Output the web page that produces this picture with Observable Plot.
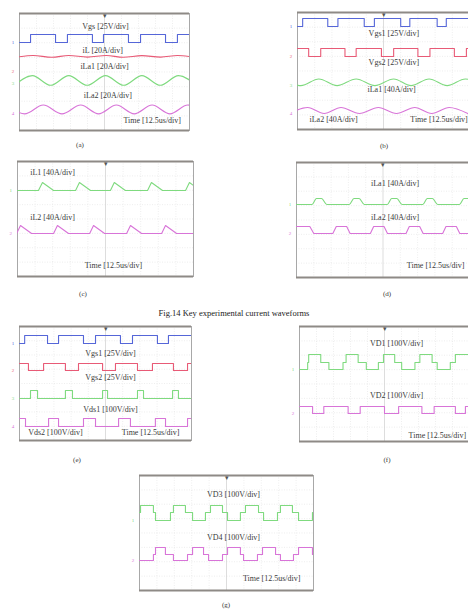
<!DOCTYPE html>
<html>
<head>
<meta charset="utf-8">
<script src="https://cdn.jsdelivr.net/npm/d3@7"></script>
<script src="https://cdn.jsdelivr.net/npm/@observablehq/plot@0.6"></script>
<style>
  html, body { margin: 0; padding: 0; background: #fff; }
  #wrap { position: relative; width: 468px; height: 610px; overflow: hidden; background: #fff; font-family: "Liberation Serif", serif; }
  .pnl { position: absolute; }
  .cap { position: absolute; font-size: 7px; color: #333; transform: translateX(-50%); white-space: nowrap; }
</style>
</head>
<body>
<div id="wrap"></div>
<script>
// ---------- grid (oscilloscope divisions) ----------
const gridX = [1, 2, 3, 4, 6, 7, 8, 9];
const gridY = [1, 2, 3, 4, 5, 6, 7];

// ---------- panel (a) ----------
const aVgsT = [0, 0.65, 2.12, 2.82, 4.29, 4.94, 6.41, 7.12, 8.59, 9.29, 10];
const aVgsV = [6.02, 6.56, 6.02, 6.56, 6.02, 6.56, 6.02, 6.56, 6.02, 6.56, 6.56];
const aIlX = [0, 0.8, 1.9, 2.9, 4.0, 5.1, 6.1, 7.2, 8.3, 9.3, 10];
const aIlY = [5.04, 5.13, 5.01, 5.13, 5.02, 5.13, 5.01, 5.12, 5.02, 5.13, 5.06];
const aIa1X = [-0.31, 0.76, 1.83, 2.9, 3.98, 5.06, 6.13, 7.2, 8.28, 9.35, 10.42];
const aIa1Y = [3.09, 3.75, 3.09, 3.75, 3.09, 3.75, 3.09, 3.75, 3.09, 3.75, 3.09];
const aIa2X = [-0.75, 0.3, 1.4, 2.5, 3.6, 4.65, 5.7, 6.75, 7.8, 8.85, 9.9, 10.95];
const aIa2Y = [1.74, 1.14, 1.74, 1.14, 1.74, 1.14, 1.74, 1.14, 1.74, 1.14, 1.74, 1.14];
const aLabels = ["Vgs [25V/div]", "iL [20A/div]", "iLa1 [20A/div]", "iLa2 [20A/div]"];
const aLabelX = [5.06, 4.9, 5.0, 5.2];
const aLabelY = [7.1, 5.5, 4.4, 2.4];
const aMarkY = [6.02, 4.03, 3.2, 1.17];

// ---------- panel (b) ----------
const bVgs1T = [0, 0.3, 1.76, 2.35, 3.88, 4.47, 6.0, 6.53, 8.12, 8.65, 10];
const bVgs1V = [7.04, 7.59, 7.04, 7.59, 7.04, 7.59, 7.04, 7.59, 7.04, 7.59, 7.59];
const bVgs2T = [0, 0.65, 1.35, 2.76, 3.41, 4.88, 5.59, 7.0, 7.7, 9.12, 9.82, 10];
const bVgs2V = [5.54, 4.99, 5.54, 4.99, 5.54, 4.99, 5.54, 4.99, 5.54, 4.99, 5.54, 5.54];
const bIa1X = [-0.85, 0.2, 1.24, 2.3, 3.41, 4.5, 5.59, 6.6, 7.65, 8.7, 9.76, 10.8];
const bIa1Y = [3.45, 3.0, 3.45, 3.0, 3.45, 3.0, 3.45, 3.0, 3.45, 3.0, 3.45, 3.0];
const bIa2X = [-0.5, 0.59, 1.55, 2.53, 3.6, 4.7, 5.75, 6.82, 7.8, 8.82, 9.9];
const bIa2Y = [1.09, 1.5, 1.09, 1.5, 1.09, 1.5, 1.09, 1.5, 1.09, 1.5, 1.09];
const bLabels = ["Vgs1 [25V/div]", "Vgs2 [25V/div]", "iLa1 [40A/div]", "iLa2 [40A/div]"];
const bLabelX = [5.6, 5.6, 5.47, 2.1];
const bLabelY = [6.56, 4.58, 2.74, 0.68];
const bMarkY = [7.04, 4.99, 3.0, 1.09];

// ---------- panel (c) ----------
const cI1X = [0, 1.19, 1.42, 2.05, 3.3, 3.52, 4.15, 5.28, 5.5, 6.13, 7.39, 7.61, 8.24, 9.55, 9.77, 10.4];
const cI1Y = [5.98, 5.98, 6.54, 5.98, 5.98, 6.54, 5.98, 5.98, 6.54, 5.98, 5.98, 6.54, 5.98, 5.98, 6.54, 5.98];
const cI2X = [-0.05, 0.17, 0.8, 2.05, 2.27, 2.9, 4.1, 4.32, 4.95, 6.2, 6.42, 7.05, 8.19, 8.41, 9.04, 10];
const cI2Y = [2.99, 3.55, 2.99, 2.99, 3.55, 2.99, 2.99, 3.55, 2.99, 2.99, 3.55, 2.99, 2.99, 3.55, 2.99, 2.99];
const cLabels = ["iL1 [40A/div]", "iL2 [40A/div]"];
const cLabelX = [1.99, 1.99];
const cLabelY = [7.23, 4.1];
const cMarkY = [5.98, 2.99];

// ---------- panel (d) ----------
const dI1X = [0, 0.9, 1.15, 1.45, 1.75, 3.05, 3.32, 3.62, 3.92, 5.25, 5.5, 5.8, 6.1, 7.3, 7.56, 7.86, 8.16, 9.42, 9.68, 9.98, 10.3];
const dI1Y = [5.08, 5.08, 5.5, 5.5, 5.08, 5.08, 5.5, 5.5, 5.08, 5.08, 5.5, 5.5, 5.08, 5.08, 5.5, 5.5, 5.08, 5.08, 5.5, 5.5, 5.08];
const dI2X = [-0.1, 0.77, 1.0, 2.1, 2.3, 2.9, 3.1, 4.27, 4.46, 5.06, 5.26, 6.33, 6.52, 7.12, 7.32, 8.45, 8.64, 9.24, 9.44, 10];
const dI2Y = [3.55, 3.55, 3.06, 3.06, 3.55, 3.55, 3.06, 3.06, 3.55, 3.55, 3.06, 3.06, 3.55, 3.55, 3.06, 3.06, 3.55, 3.55, 3.06, 3.06];
const dLabels = ["iLa1 [40A/div]", "iLa2 [40A/div]"];
const dLabelX = [5.7, 5.7];
const dLabelY = [6.54, 4.17];
const dMarkY = [5.08, 3.06];

// ---------- panel (e) ----------
const eVgs1T = [0, 0.3, 1.63, 2.27, 3.72, 4.42, 5.87, 6.57, 8.02, 8.66, 10];
const eVgs1V = [6.81, 7.37, 6.81, 7.37, 6.81, 7.37, 6.81, 7.37, 6.81, 7.37, 7.37];
const eVgs2T = [0, 0.52, 1.4, 2.67, 3.43, 4.83, 5.58, 6.86, 7.73, 8.95, 9.77, 10];
const eVgs2V = [5.4, 4.91, 5.4, 4.91, 5.4, 4.91, 5.4, 4.91, 5.4, 4.91, 5.4, 5.4];
const eVds1T = [0, 0.64, 1.05, 2.67, 3.08, 4.83, 5.12, 6.86, 7.21, 8.9, 9.24, 10];
const eVds1V = [2.95, 3.51, 2.95, 3.51, 2.95, 3.51, 2.95, 3.51, 2.95, 3.51, 2.95, 2.95];
const eVds2T = [0, 0.35, 1.69, 2.27, 3.72, 4.42, 5.76, 6.45, 7.9, 8.49, 9.77, 10];
const eVds2V = [1.54, 0.98, 1.54, 0.98, 1.54, 0.98, 1.54, 0.98, 1.54, 0.98, 1.54, 1.54];
const eLabels = ["Vgs1 [25V/div]", "Vgs2 [25V/div]", "Vds1 [100V/div]", "Vds2 [100V/div]"];
const eLabelX = [5.29, 5.29, 5.29, 2.09];
const eLabelY = [6.1, 4.42, 2.18, 0.56];
const eMarkY = [6.81, 4.91, 2.95, 0.98];

// ---------- panel (f) ----------
const fVd1T = [0, 0.48, 0.54, 1.25, 1.73, 2.56, 2.74, 3.45, 3.93, 4.64, 4.94, 5.6, 6.01, 6.79, 7.08, 7.8, 8.1, 8.87, 9.17, 10];
const fVd1V = [5.01, 5.5, 6.05, 5.5, 5.01, 5.5, 6.05, 5.5, 5.01, 5.5, 6.05, 5.5, 5.01, 5.5, 6.05, 5.5, 5.01, 5.5, 6.05, 6.05];
const fVd2T = [0, 0.77, 1.43, 2.86, 3.57, 5.0, 5.83, 7.2, 7.92, 9.17, 9.76, 10];
const fVd2V = [2.43, 1.95, 2.43, 1.95, 2.43, 1.95, 2.43, 1.95, 2.43, 1.95, 2.43, 2.43];
const fLabels = ["VD1 [100V/div]", "VD2 [100V/div]"];
const fLabelX = [5.71, 5.71];
const fLabelY = [6.82, 3.2];
const fMarkY = [5.01, 1.95];

// ---------- panel (g) ----------
const gVd3T = [0, 0.06, 0.8, 0.92, 1.78, 1.95, 2.64, 3.05, 3.79, 4.08, 4.77, 5.06, 5.8, 6.09, 6.84, 7.13, 7.93, 8.1, 8.79, 9.14, 9.94, 10];
const gVd3V = [5.43, 5.91, 5.43, 4.87, 5.43, 5.91, 5.43, 4.87, 5.43, 5.91, 5.43, 4.87, 5.43, 5.91, 5.43, 4.87, 5.43, 5.91, 5.43, 4.87, 5.43, 5.43];
const gVd4T = [0, 0.8, 0.92, 1.49, 1.95, 2.76, 3.05, 3.68, 3.97, 4.77, 5.06, 5.8, 5.98, 6.78, 7.07, 7.82, 8.1, 8.85, 9.14, 9.94, 10];
const gVd4V = [2.09, 2.5, 2.99, 2.5, 2.09, 2.5, 2.99, 2.5, 2.09, 2.5, 2.99, 2.5, 2.09, 2.5, 2.99, 2.5, 2.09, 2.5, 2.99, 2.5, 2.5];
const gLabels = ["VD3 [100V/div]", "VD4 [100V/div]"];
const gLabelX = [5.4, 5.4];
const gLabelY = [6.68, 3.69];
const gMarkY = [4.87, 2.09];

// ---------- captions ----------
const timeLabel = "Time [12.5us/div]";
const figTitle = "Fig.14 Key experimental current waveforms";
const captions = ["(a)", "(b)", "(c)", "(d)", "(e)", "(f)", "(g)"];

// ---------- colours ----------
const BLUE = "#5566d8", RED = "#e85a76", GREEN = "#7fda7f", MAG = "#d874d8";

function pairs(X, Y) { return d3.zip(X, Y); }

function panel(cfg) {
  const mL = 10, mR = 3, mT = 3, mB = 3;
  const marks = [
    Plot.ruleX(gridX, {stroke: "#e2e2e2", strokeWidth: 0.6, strokeDasharray: "1,1.5"}),
    Plot.ruleY(gridY, {stroke: "#e2e2e2", strokeWidth: 0.6, strokeDasharray: "1,1.5"}),
    Plot.ruleX([5], {stroke: "#cfcfcf", strokeWidth: 0.7}),
    Plot.frame({stroke: "#a8a8a8", strokeWidth: 1}),
    Plot.ruleY([0, 8], {stroke: "#8e8a86", strokeWidth: 2.2}),
    Plot.text(["▾"], {x: 5, y: 8, dy: 2, fontSize: 7, fill: "#555"})
  ];
  for (const tr of cfg.traces) {
    marks.push(Plot.line(pairs(tr.x, tr.y), {x: "0", y: "1", stroke: tr.color, strokeWidth: 1.1, curve: tr.curve, clip: true}));
  }
  cfg.marks.forEach((m) => {
    marks.push(Plot.text([m.label], {x: -0.38, y: m.y, fill: m.color, fontSize: 5}));
  });
  marks.push(Plot.text(cfg.labels, {x: (d, i) => cfg.labelX[i], y: (d, i) => cfg.labelY[i], fontSize: 8, fill: "#3a3a3a"}));
  marks.push(Plot.text([timeLabel], {x: cfg.timeX, y: cfg.timeY, textAnchor: cfg.timeAnchor, fontSize: 8, fill: "#3a3a3a"}));
  const svg = Plot.plot({
    width: cfg.W + mL + mR, height: cfg.H + mT + mB,
    marginLeft: mL, marginRight: mR, marginTop: mT, marginBottom: mB,
    x: {domain: [0, 10], axis: null},
    y: {domain: [0, 8], axis: null},
    style: {background: "transparent", fontFamily: "Liberation Serif, serif", overflow: "visible"},
    marks
  });
  svg.classList.add("pnl");
  svg.style.position = "absolute";
  svg.style.left = (cfg.L - mL) + "px";
  svg.style.top = (cfg.T - mT) + "px";
  return svg;
}

function mk(colors, ys) { return ys.map((y, i) => ({label: String(i + 1), y, color: colors[i]})); }

const wrap = document.getElementById("wrap");
const panels = [
  {L: 19, T: 13, W: 170, H: 117,
   traces: [
     {x: aVgsT, y: aVgsV, color: BLUE, curve: "step-after"},
     {x: aIlX, y: aIlY, color: RED, curve: "monotone-x"},
     {x: aIa1X, y: aIa1Y, color: GREEN, curve: "monotone-x"},
     {x: aIa2X, y: aIa2Y, color: MAG, curve: "monotone-x"}],
   marks: mk([BLUE, RED, GREEN, MAG], aMarkY),
   labels: aLabels, labelX: aLabelX, labelY: aLabelY, timeX: 9.5, timeY: 0.7, timeAnchor: "end"},
  {L: 297, T: 12, W: 172, H: 117,
   traces: [
     {x: bVgs1T, y: bVgs1V, color: BLUE, curve: "step-after"},
     {x: bVgs2T, y: bVgs2V, color: RED, curve: "step-after"},
     {x: bIa1X, y: bIa1Y, color: GREEN, curve: "monotone-x"},
     {x: bIa2X, y: bIa2Y, color: MAG, curve: "monotone-x"}],
   marks: mk([BLUE, RED, GREEN, MAG], bMarkY),
   labels: bLabels, labelX: bLabelX, labelY: bLabelY, timeX: 9.9, timeY: 0.68, timeAnchor: "end"},
  {L: 17, T: 161, W: 176, H: 115,
   traces: [
     {x: cI1X, y: cI1Y, color: GREEN, curve: "linear"},
     {x: cI2X, y: cI2Y, color: MAG, curve: "linear"}],
   marks: mk([GREEN, MAG], cMarkY),
   labels: cLabels, labelX: cLabelX, labelY: cLabelY, timeX: 5.45, timeY: 0.77, timeAnchor: "middle"},
  {L: 296, T: 162, W: 173, H: 115,
   traces: [
     {x: dI1X, y: dI1Y, color: GREEN, curve: "monotone-x"},
     {x: dI2X, y: dI2Y, color: MAG, curve: "linear"}],
   marks: mk([GREEN, MAG], dMarkY),
   labels: dLabels, labelX: dLabelX, labelY: dLabelY, timeX: 9.7, timeY: 0.83, timeAnchor: "end"},
  {L: 19, T: 326, W: 172, H: 114,
   traces: [
     {x: eVgs1T, y: eVgs1V, color: BLUE, curve: "step-after"},
     {x: eVgs2T, y: eVgs2V, color: RED, curve: "step-after"},
     {x: eVds1T, y: eVds1V, color: GREEN, curve: "step-after"},
     {x: eVds2T, y: eVds2V, color: MAG, curve: "step-after"}],
   marks: mk([BLUE, RED, GREEN, MAG], eMarkY),
   labels: eLabels, labelX: eLabelX, labelY: eLabelY, timeX: 7.62, timeY: 0.56, timeAnchor: "middle"},
  {L: 299, T: 326, W: 170, H: 115,
   traces: [
     {x: fVd1T, y: fVd1V, color: GREEN, curve: "step-after"},
     {x: fVd2T, y: fVd2V, color: MAG, curve: "step-after"}],
   marks: mk([GREEN, MAG], fMarkY),
   labels: fLabels, labelX: fLabelX, labelY: fLabelY, timeX: 9.8, timeY: 0.45, timeAnchor: "end"},
  {L: 139, T: 475, W: 174, H: 115,
   traces: [
     {x: gVd3T, y: gVd3V, color: GREEN, curve: "step-after"},
     {x: gVd4T, y: gVd4V, color: MAG, curve: "step-after"}],
   marks: mk([GREEN, MAG], gMarkY),
   labels: gLabels, labelX: gLabelX, labelY: gLabelY, timeX: 9.25, timeY: 0.83, timeAnchor: "end"}
];
panels.forEach(p => wrap.appendChild(panel(p)));

const capPos = [[80, 141], [384, 142], [83, 290], [387, 290], [77, 456], [387, 456], [226, 601]];
captions.forEach((c, i) => {
  const d = document.createElement("div");
  d.className = "cap";
  d.textContent = c;
  d.style.left = capPos[i][0] + "px";
  d.style.top = capPos[i][1] + "px";
  wrap.appendChild(d);
});
const t = document.createElement("div");
t.className = "cap";
t.textContent = figTitle;
t.style.left = "234px";
t.style.top = "308px";
t.style.fontSize = "8.5px";
t.style.color = "#222";
wrap.appendChild(t);
</script>
</body>
</html>
